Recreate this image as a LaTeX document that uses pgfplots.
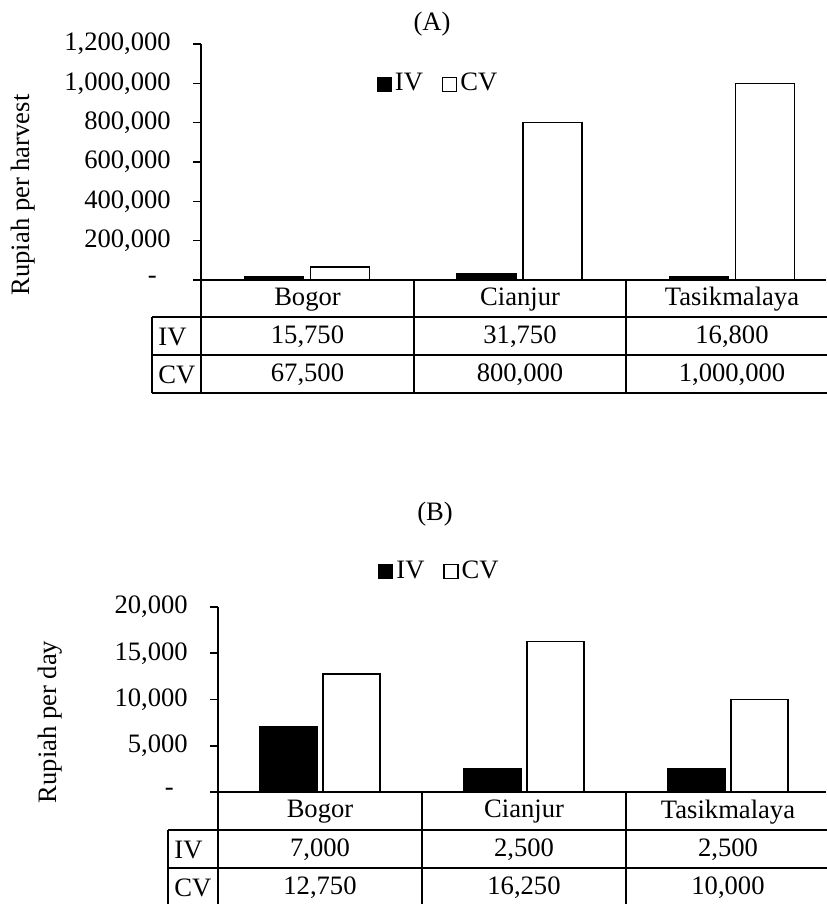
\documentclass[border=0pt]{standalone}
\usepackage{pgfplots}
\pgfplotsset{compat=1.18}
\usepackage{fontspec}
\setmainfont{Liberation Serif}
\begin{document}
\fontsize{13.3pt}{15pt}\selectfont
\begin{tikzpicture}[font=\fontsize{13.3pt}{15pt}\selectfont, line width=0.8pt]
\pgfplotsset{
  mybars/.style={
    scale only axis, anchor=south west,
    axis lines=left, axis line style={-, line width=0.8pt, black},
    xtick=\empty, tick align=outside, major tick length=4pt,
    ytick style={line width=0.8pt, black},
    scaled y ticks=false,
    ymin=0, xmin=-0.5,
    ybar, clip=false,
    yticklabel style={font=\fontsize{13.3pt}{15pt}\selectfont, xshift=-6.5pt},
    legend style={draw=none, fill=none, legend columns=2, anchor=center,
      font=\fontsize{13.3pt}{15pt}\selectfont,
      nodes={inner xsep=1.5pt},
      /tikz/every even column/.append style={column sep=8pt}},
  },
  ivleg/.style={legend image code/.code={\draw[fill=black,draw=black,line width=0.6pt] (0pt,-3.5pt) rectangle (7pt,3.5pt);}},
  cvleg/.style={legend image code/.code={\draw[fill=white,draw=black,line width=0.6pt] (0pt,-3.5pt) rectangle (7pt,3.5pt);}},
}
% ---------- Panel A ----------
\begin{axis}[mybars, at={(100.5pt,-140pt)}, width=312.5pt, height=118pt,
  xmax=2.443, ymax=1200000,
  ytick={0,200000,400000,600000,800000,1000000,1200000},
  yticklabels={{-\hspace*{7pt}},{200,000},{400,000},{600,000},{800,000},{1,000,000},{1,200,000}},
  bar width=29.5pt,
  legend style={at={(0.38,0.83)}}]
\addplot[fill=black, draw=black, line width=0.8pt, bar shift=-16.5pt, ivleg] coordinates {(0,15750) (1,31750) (2,16800)};
\addplot[fill=white, draw=black, line width=0.8pt, bar shift=16.5pt, cvleg] coordinates {(0,67500) (1,800000) (2,1000000)};
\legend{IV,CV}
\end{axis}
% table A
\draw (100.5pt,-140pt) -- (100.5pt,-196.5pt);
\draw (207pt,-140pt) -- (207pt,-196.5pt);
\draw (313pt,-140pt) -- (313pt,-196.5pt);
\draw (76pt,-158.5pt) -- (414pt,-158.5pt);
\draw (76pt,-177.5pt) -- (414pt,-177.5pt);
\draw (76pt,-196.5pt) -- (414pt,-196.5pt);
\draw (76pt,-158.5pt) -- (76pt,-196.5pt);
\node at (153.75pt,-149.75pt) {Bogor};
\node at (260pt,-149.75pt) {Cianjur};
\node at (366pt,-149.75pt) {Tasikmalaya};
\node[anchor=west, inner xsep=0pt] at (79pt,-168.5pt) {IV};
\node[anchor=west, inner xsep=0pt] at (79pt,-187.5pt) {CV};
\node at (153.75pt,-168.5pt) {15,750};
\node at (260pt,-168.5pt) {31,750};
\node at (366pt,-168.5pt) {16,800};
\node at (153.75pt,-187.5pt) {67,500};
\node at (260pt,-187.5pt) {800,000};
\node at (366pt,-187.5pt) {1,000,000};
\node at (216pt,-12pt) {(A)};
\node[rotate=90] at (11.5pt,-97.5pt) {Rupiah per harvest};
% ---------- Panel B ----------
\begin{axis}[mybars, at={(109pt,-396pt)}, width=304pt, height=92.5pt,
  xmax=2.48, ymax=20000,
  ytick={0,5000,10000,15000,20000},
  yticklabels={{-\hspace*{7pt}},{5,000},{10,000},{15,000},{20,000}},
  bar width=28.5pt,
  legend style={at={(0.365,1.19)}}]
\addplot[fill=black, draw=black, line width=0.8pt, bar shift=-15.75pt, ivleg] coordinates {(0,7000) (1,2500) (2,2500)};
\addplot[fill=white, draw=black, line width=0.8pt, bar shift=15.75pt, cvleg] coordinates {(0,12750) (1,16250) (2,10000)};
\legend{IV,CV}
\end{axis}
% table B
\draw (109pt,-396pt) -- (109pt,-455pt);
\draw (211pt,-396pt) -- (211pt,-455pt);
\draw (313pt,-396pt) -- (313pt,-455pt);
\draw (84pt,-415pt) -- (414pt,-415pt);
\draw (84pt,-434pt) -- (414pt,-434pt);
\draw (84pt,-453pt) -- (414pt,-453pt);
\draw (84pt,-415pt) -- (84pt,-455pt);
\node at (160pt,-406pt) {Bogor};
\node at (262pt,-406pt) {Cianjur};
\node at (364pt,-406pt) {Tasikmalaya};
\node[anchor=west, inner xsep=0pt] at (87pt,-425pt) {IV};
\node[anchor=west, inner xsep=0pt] at (87pt,-444pt) {CV};
\node at (160pt,-425pt) {7,000};
\node at (262pt,-425pt) {2,500};
\node at (364pt,-425pt) {2,500};
\node at (160pt,-444pt) {12,750};
\node at (262pt,-444pt) {16,250};
\node at (364pt,-444pt) {10,000};
\node at (217.5pt,-257pt) {(B)};
\node[rotate=90] at (25pt,-361pt) {Rupiah per day};
\pgfresetboundingbox
\path[use as bounding box] (0pt,0pt) rectangle (413pt,-452pt);
\end{tikzpicture}
\end{document}
